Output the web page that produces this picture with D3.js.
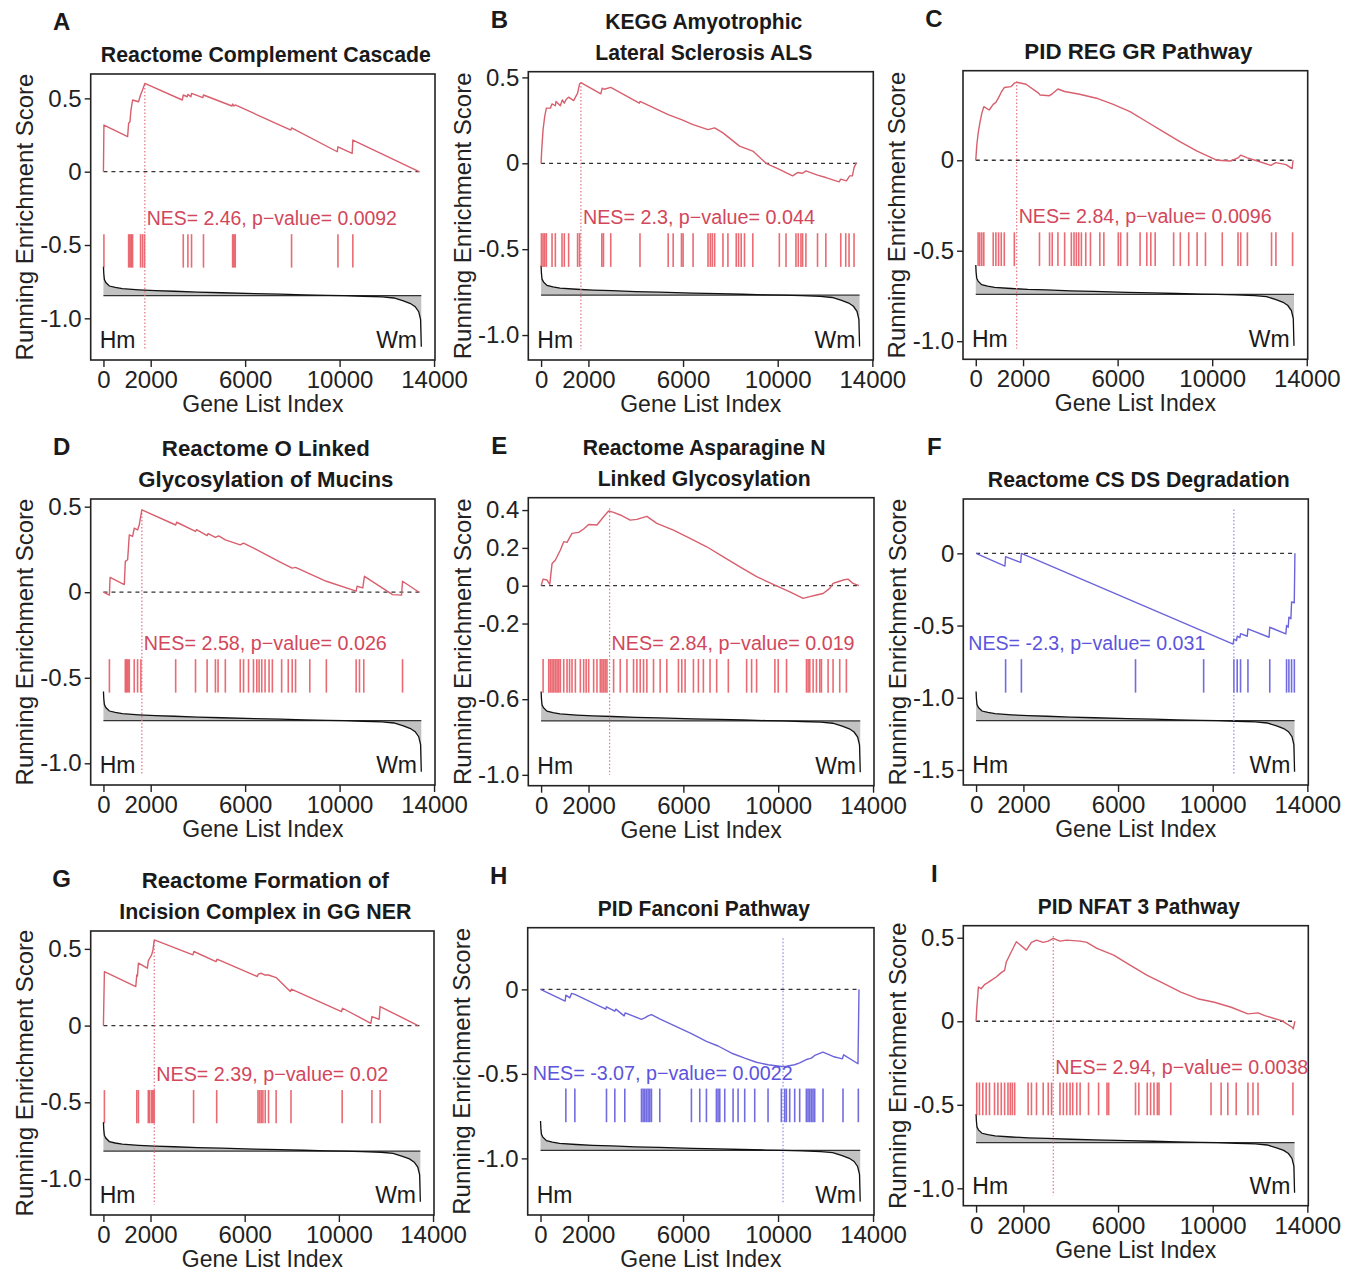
<!DOCTYPE html>
<html>
<head>
<meta charset="utf-8">
<script src="https://cdn.jsdelivr.net/npm/d3@7"></script>
<style>
  body { margin: 0; background: #fff; }
  svg { display: block; }
  text { font-family: "Liberation Sans", Arial, Helvetica, sans-serif; }
</style>
</head>
<body>
<svg id="chart" width="1358" height="1273"></svg>
<script>
// ---- data ----
const panelIds = ["A", "B", "C", "D", "E", "F", "G", "H", "I"];
const titles = [
  ["Reactome Complement Cascade"],
  ["KEGG Amyotrophic", "Lateral Sclerosis ALS"],
  ["PID REG GR Pathway"],
  ["Reactome O Linked", "Glycosylation of Mucins"],
  ["Reactome Asparagine N", "Linked Glycosylation"],
  ["Reactome CS DS Degradation"],
  ["Reactome Formation of", "Incision Complex in GG NER"],
  ["PID Fanconi Pathway"],
  ["PID NFAT 3 Pathway"]
];
const nesValues = ["2.46", "2.3", "2.84", "2.58", "2.84", "-2.3", "2.39", "-3.07", "2.94"];
const pValues = ["0.0092", "0.044", "0.0096", "0.026", "0.019", "0.031", "0.02", "0.0022", "0.0038"];
const direction = ["up", "up", "up", "up", "up", "down", "up", "down", "up"];
const peakIndex = [1753, 1683, 1730, 1627, 2889, 10894, 2160, 10210, 3262];

// data range of each ES plot (axis is padded 4% like R)
const yLimits = [
  [-1.212, 0.594], [-1.083, 0.471], [-1.041, 0.436],
  [-1.065, 0.483], [-1.001, 0.409], [-1.531, 0.303],
  [-1.166, 0.548], [-1.272, 0.302], [-1.042, 0.510]
];
const yTickValues = [
  [0.5, 0, -0.5, -1.0], [0.5, 0, -0.5, -1.0], [0, -0.5, -1.0],
  [0.5, 0, -0.5, -1.0], [0.4, 0.2, 0, -0.2, -0.6, -1.0], [0, -0.5, -1.0, -1.5],
  [0.5, 0, -0.5, -1.0], [0, -0.5, -1.0], [0.5, 0, -0.5, -1.0]
];
const xTickValues = [0, 2000, 6000, 10000, 14000];
const geneRange = [0, 13500];

// running enrichment score, [gene index, ES]
const esA = [[0,0],[20,0.318],[1024,0.239],[1066,0.33],[1122,0.34],[1164,0.42],[1234,0.489],[1487,0.477],[1571,0.523],[1655,0.557],[1753,0.602],[3338,0.489],[3380,0.523],[3548,0.511],[3576,0.527],[3703,0.511],[3731,0.534],[4208,0.505],[4236,0.523],[5442,0.448],[5470,0.461],[5526,0.448],[5582,0.455],[7938,0.284],[7966,0.298],[9902,0.136],[9930,0.17],[10533,0.125],[10561,0.216],[13366,0]];
const esB = [[0,0],[28,0.081],[84,0.196],[154,0.273],[224,0.321],[393,0.321],[463,0.346],[603,0.335],[631,0.36],[813,0.335],[898,0.369],[982,0.35],[1066,0.373],[1164,0.385],[1374,0.365],[1543,0.408],[1627,0.462],[1683,0.469],[2525,0.404],[2581,0.437],[2665,0.431],[2945,0.442],[4151,0.35],[4180,0.36],[5372,0.283],[5933,0.254],[6424,0.225],[7055,0.196],[7335,0.206],[7686,0.177],[8387,0.1],[8948,0.071],[9509,0],[10070,-0.035],[10631,-0.073],[10842,-0.054],[11052,-0.058],[11192,-0.044],[11683,-0.069],[12034,-0.083],[12595,-0.108],[12665,-0.092],[12903,-0.102],[13043,-0.073],[13156,-0.073],[13226,-0.025],[13324,0.004]];
const esC = [[0,0],[43,0.083],[99,0.148],[170,0.204],[255,0.259],[340,0.296],[567,0.278],[738,0.309],[851,0.32],[965,0.346],[1078,0.376],[1206,0.402],[1489,0.407],[1631,0.426],[1730,0.431],[2128,0.42],[2667,0.37],[2723,0.361],[3121,0.357],[3262,0.37],[3475,0.394],[3759,0.38],[4397,0.365],[5106,0.343],[5816,0.309],[6525,0.269],[7234,0.213],[7943,0.157],[8652,0.102],[9362,0.05],[10213,0],[10780,-0.004],[11092,0.013],[11206,0.028],[11489,0.013],[11915,-0.004],[12482,-0.028],[12695,-0.013],[13121,-0.024],[13380,-0.046],[13420,0]];
const esD = [[0,0],[252,-0.017],[280,0.087],[884,0.045],[926,0.18],[1024,0.19],[1094,0.335],[1234,0.326],[1304,0.374],[1445,0.364],[1515,0.393],[1627,0.481],[3058,0.393],[3100,0.409],[3899,0.355],[3941,0.366],[4390,0.331],[4432,0.343],[4741,0.32],[4881,0.329],[5161,0.306],[5792,0.277],[5932,0.287],[6424,0.254],[6844,0.223],[7546,0.171],[7994,0.141],[8135,0.145],[8738,0.107],[9439,0.064],[10701,0.006],[10743,0.035],[10982,0.025],[11052,0.093],[12244,-0.014],[12623,-0.017],[12665,0.064],[13366,0]];
const esE = [[0,0],[84,0.035],[252,0.03],[365,0.007],[463,0.118],[603,0.136],[813,0.189],[954,0.233],[1094,0.229],[1304,0.277],[1585,0.282],[1795,0.3],[2006,0.324],[2356,0.321],[2637,0.365],[2847,0.395],[3058,0.388],[3338,0.374],[3759,0.347],[4039,0.351],[4460,0.367],[4881,0.33],[5582,0.294],[6283,0.25],[6985,0.206],[7686,0.153],[8387,0.1],[9088,0.048],[9790,0.007],[10491,-0.032],[11052,-0.067],[11332,-0.058],[11613,-0.049],[11893,-0.041],[12174,-0.014],[12314,0.012],[12525,0.021],[12735,0.03],[12945,0.035],[13156,0.012],[13408,0]];
const esF = [[0,0],[1220,-0.088],[1248,-0.023],[1887,-0.063],[1915,0],[10865,-0.628],[10894,-0.593],[11007,-0.605],[11035,-0.574],[11149,-0.584],[11177,-0.556],[11461,-0.574],[11489,-0.523],[12383,-0.581],[12411,-0.512],[13092,-0.558],[13121,-0.5],[13191,-0.512],[13220,-0.442],[13305,-0.453],[13333,-0.337],[13447,-0.342],[13475,0]];
const esG = [[0,0],[42,0.352],[1374,0.254],[1417,0.33],[1445,0.322],[1487,0.407],[1865,0.374],[1907,0.422],[1964,0.439],[2048,0.461],[2104,0.493],[2160,0.559],[3801,0.461],[3843,0.483],[4783,0.417],[4825,0.433],[6536,0.32],[6578,0.335],[6704,0.341],[6844,0.33],[7013,0.33],[7335,0.313],[7938,0.222],[7980,0.237],[10112,0.091],[10154,0.113],[11360,0.015],[11403,0.059],[11711,0.041],[11753,0.124],[13366,0]];
const esH = [[0,0],[1038,-0.069],[1066,-0.034],[1234,-0.05],[1304,-0.024],[1445,-0.03],[2749,-0.117],[2777,-0.103],[3128,-0.129],[3170,-0.117],[3520,-0.157],[3562,-0.139],[4250,-0.177],[4390,-0.169],[4530,-0.157],[4670,-0.149],[4993,-0.173],[5582,-0.212],[6353,-0.262],[6985,-0.308],[7475,-0.335],[8107,-0.381],[8597,-0.407],[9088,-0.431],[9579,-0.446],[10140,-0.456],[10351,-0.454],[10701,-0.446],[10911,-0.435],[11192,-0.415],[11403,-0.407],[11543,-0.391],[11893,-0.371],[12314,-0.397],[12707,-0.411],[12763,-0.387],[13366,-0.44],[13408,0]];
const esI = [[0,0],[28,0.074],[99,0.205],[213,0.195],[355,0.219],[496,0.231],[638,0.245],[851,0.265],[1064,0.291],[1206,0.305],[1277,0.355],[1489,0.416],[1702,0.476],[2128,0.426],[2340,0.472],[2553,0.486],[2837,0.472],[3050,0.48],[3262,0.496],[3546,0.48],[3830,0.486],[4397,0.48],[4681,0.472],[5106,0.436],[5816,0.396],[6525,0.335],[7234,0.275],[7943,0.225],[8652,0.175],[9362,0.135],[10071,0.114],[10780,0.084],[11489,0.044],[11915,0.05],[12199,0.034],[12908,0.004],[13362,-0.036],[13404,-0.046],[13475,0]];

// positions of gene-set members in the ranked list
const hitsA = [20,1066,1122,1178,1234,1571,1655,1739,3380,3576,3730,4236,5470,5526,5582,7966,9930,10561];
const hitsB = [14,84,154,224,463,603,884,982,1164,1543,1627,2567,2637,2945,4180,5372,5582,5933,6003,6424,7055,7153,7237,7335,7686,7896,8247,8345,8457,8597,8948,10070,10351,10771,10870,10982,11052,11192,11683,12034,12665,12875,13015,13226];
const hitsC = [99,170,255,340,738,851,965,1078,1206,1631,2695,3121,3234,3475,3759,4043,4156,4255,4355,4468,4652,4851,5248,5418,6028,6128,6411,6950,7234,7404,7589,8369,8652,9007,9362,9716,10426,11092,11206,11489,12511,12695,13400];
const hitsD = [252,926,982,1038,1094,1304,1445,1585,3058,3899,4390,4741,4853,5161,5792,5932,6143,6353,6494,6592,6704,6844,7013,7153,7546,7826,7994,8135,8738,9439,10701,10842,11024,12665];
const hitsE = [84,323,393,463,533,603,673,743,813,954,1094,1200,1304,1445,1655,1795,1900,2006,2216,2356,2497,2567,2637,2707,2777,3058,3338,3619,3899,4040,4180,4320,4460,4741,5021,5302,5792,5933,6073,6424,6634,6844,7125,7405,7896,8668,8878,9088,9860,10000,10351,11192,11262,11332,11473,11613,11753,11823,12104,12314,12595,12875];
const hitsF = [1248,1915,6738,9617,10894,11035,11177,11489,12411,13121,13220,13333,13450];
const hitsG = [42,1417,1487,1907,1964,2048,2104,2160,3829,4811,6564,6634,6704,6774,6872,7013,7335,7966,10140,11403,11753];
const hitsH = [1066,1445,2777,3128,3548,4250,4320,4390,4460,4530,4600,4670,5021,6353,6704,6985,7405,7475,7546,7756,8107,8317,8597,9018,9579,10140,10280,10351,10491,10701,10911,11192,11262,11332,11403,11473,11543,11893,12735,13380];
const hitsI = [28,142,284,426,567,780,922,1064,1206,1348,1447,1532,1631,2199,2340,2553,2837,3050,3191,3546,3688,3830,3972,4085,4255,4397,4752,5177,5532,5603,6738,6879,7234,7376,7518,7660,7730,8227,9929,10355,10638,10993,11489,11702,11915,13390];

// ranked list metric (shared by all panels), [gene index, relative metric]
const rankMetric = [[0,1.0],[15,0.75],[40,0.55],[100,0.45],[250,0.33],[500,0.28],[800,0.24],[1500,0.2],[2200,0.17],[3000,0.15],[4000,0.12],[5000,0.1],[6400,0.07],[7500,0.05],[8500,0.03],[9500,0.01],[10200,0],[11000,-0.02],[11800,-0.04],[12300,-0.08],[12700,-0.18],[13000,-0.27],[13200,-0.38],[13350,-0.55],[13430,-0.82],[13460,-1.75]];

const esCurves = [esA, esB, esC, esD, esE, esF, esG, esH, esI];
const hitLists = [hitsA, hitsB, hitsC, hitsD, hitsE, hitsF, hitsG, hitsH, hitsI];

// ---- layout ----
const boxes = [
  { x0: 90.7, y0: 74, x1: 435, y1: 360 },
  { x0: 528.3, y0: 71.7, x1: 873.3, y1: 360 },
  { x0: 963, y0: 70.7, x1: 1307.7, y1: 359.3 },
  { x0: 90.7, y0: 499, x1: 435, y1: 785 },
  { x0: 528.3, y0: 497.7, x1: 874, y1: 785.7 },
  { x0: 963.3, y0: 499, x1: 1308.3, y1: 785 },
  { x0: 90.7, y0: 931, x1: 434, y1: 1215 },
  { x0: 527.7, y0: 927.7, x1: 874, y1: 1215 },
  { x0: 963.3, y0: 925.7, x1: 1308.3, y1: 1205.7 }
];
const titleWidths = [[330], [197, 217], [228], [208, 255], [243, 213], [302], [247, 292], [212], [202]];
const nesWidths = [250, 232, 253, 243, 243, 237, 232, 260, 253];

const palette = {
  up:   { line: "#d85f6d", hit: "#e2323d", text: "#d2475b", peak: "#e07585" },
  down: { line: "#6c64da", hit: "#3b33d6", text: "#5c54dc", peak: "#8c8ce6" }
};

const svg = d3.select("#chart");
// R prints a plain hyphen for negatives
const fmtY = (v) => (v === 0 ? "0" : d3.format(".1f")(v).replace("\u2212", "-"));

panelIds.forEach((id, i) => drawPanel(i, boxes[i]));

function drawPanel(i, box) {
  const col = palette[direction[i]];
  const g = svg.append("g");
  const w = box.x1 - box.x0;
  const h = box.y1 - box.y0;

  // R-style 4% padding on both axes
  const xPad = (geneRange[1] - geneRange[0]) * 0.04;
  const x = d3.scaleLinear()
    .domain([geneRange[0] - xPad, geneRange[1] + xPad])
    .range([box.x0, box.x1]);
  const [lo, hi] = yLimits[i];
  const yPad = (hi - lo) * 0.04;
  const y = d3.scaleLinear().domain([lo - yPad, hi + yPad]).range([box.y1, box.y0]);

  // ranked metric strip sits at a fixed place in the lower part of the box
  const m = d3.scaleLinear().domain([0, 1]).range([box.y0 + 0.775 * h, box.y0 + 0.673 * h]);

  // panel letter
  g.append("text")
    .attr("x", box.x0 - 29)
    .attr("y", box.y0 - 44)
    .attr("text-anchor", "middle")
    .style("font-size", "24px")
    .style("font-weight", "bold")
    .style("fill", "#1a1a1a")
    .text(panelIds[i]);

  // title (one or two lines)
  const lines = titles[i];
  lines.forEach((t, k) => {
    const baseline = box.y0 - 12 - (lines.length - 1 - k) * 31;
    g.append("text")
      .attr("x", (box.x0 + box.x1) / 2 + 3)
      .attr("y", baseline)
      .attr("text-anchor", "middle")
      .attr("textLength", titleWidths[i][k])
      .attr("lengthAdjust", "spacingAndGlyphs")
      .style("font-size", "22px")
      .style("font-weight", "bold")
      .style("fill", "#1a1a1a")
      .text(t);
  });

  // rank metric: grey area to baseline plus black outline
  const metricArea = d3.area()
    .x((d) => x(d[0]))
    .y0(m(0))
    .y1((d) => m(d[1]));
  g.append("path")
    .datum(rankMetric)
    .attr("d", metricArea)
    .attr("fill", "#c2c2c2");
  g.append("line")
    .attr("x1", x(0))
    .attr("x2", x(rankMetric[rankMetric.length - 1][0]))
    .attr("y1", m(0))
    .attr("y2", m(0))
    .attr("stroke", "#333")
    .attr("stroke-width", 1.3);
  g.append("path")
    .datum(rankMetric)
    .attr("d", d3.line().x((d) => x(d[0])).y((d) => m(d[1])))
    .attr("fill", "none")
    .attr("stroke", "#111")
    .attr("stroke-width", 1.3);

  // hit marks
  g.append("g")
    .selectAll("line")
    .data(hitLists[i])
    .join("line")
    .attr("x1", (d) => x(d))
    .attr("x2", (d) => x(d))
    .attr("y1", box.y0 + 0.56 * h)
    .attr("y2", box.y0 + 0.677 * h)
    .attr("stroke", col.hit)
    .attr("stroke-width", 1.6)
    .attr("stroke-opacity", 0.72);

  // zero line
  g.append("line")
    .attr("x1", x(0))
    .attr("x2", x(13460))
    .attr("y1", y(0))
    .attr("y2", y(0))
    .attr("stroke", "#333")
    .attr("stroke-width", 1.3)
    .attr("stroke-dasharray", "4,4");

  // leading-edge marker
  g.append("line")
    .attr("x1", x(peakIndex[i]))
    .attr("x2", x(peakIndex[i]))
    .attr("y1", y(hi))
    .attr("y2", y(lo))
    .attr("stroke", col.peak)
    .attr("stroke-width", 1.2)
    .attr("stroke-dasharray", "1.5,2");

  // running enrichment score
  g.append("path")
    .datum(esCurves[i])
    .attr("d", d3.line().x((d) => x(d[0])).y((d) => y(d[1])))
    .attr("fill", "none")
    .attr("stroke", col.line)
    .attr("stroke-width", 1.4)
    .attr("stroke-linejoin", "round");

  // NES annotation
  const nesX = direction[i] === "up" ? x(peakIndex[i]) + 2 : box.x0 + 5;
  g.append("text")
    .attr("x", nesX)
    .attr("y", box.y0 + 0.505 * h + 7)
    .attr("textLength", nesWidths[i])
    .attr("lengthAdjust", "spacingAndGlyphs")
    .style("font-size", "20px")
    .style("fill", col.text)
    .text("NES= " + nesValues[i] + ", p\u2212value= " + pValues[i]);

  // group labels
  g.append("text")
    .attr("x", box.x0 + 9)
    .attr("y", box.y1 - 12)
    .style("font-size", "23px")
    .style("fill", "#1a1a1a")
    .text("Hm");
  g.append("text")
    .attr("x", box.x1 - 18)
    .attr("y", box.y1 - 12)
    .attr("text-anchor", "end")
    .style("font-size", "23px")
    .style("fill", "#1a1a1a")
    .text("Wm");

  // box
  g.append("rect")
    .attr("x", box.x0)
    .attr("y", box.y0)
    .attr("width", w)
    .attr("height", h)
    .attr("fill", "none")
    .attr("stroke", "#222")
    .attr("stroke-width", 1.6);

  // axes
  const yAxis = g.append("g")
    .attr("transform", `translate(${box.x0},0)`)
    .call(d3.axisLeft(y).tickValues(yTickValues[i]).tickFormat(fmtY).tickSize(6).tickPadding(3));
  const xAxis = g.append("g")
    .attr("transform", `translate(0,${box.y1})`)
    .call(d3.axisBottom(x).tickValues(xTickValues).tickFormat(d3.format("d")).tickSize(7).tickPadding(4));
  [yAxis, xAxis].forEach((a) => {
    a.select(".domain").remove();
    a.selectAll("line").attr("stroke", "#222").attr("stroke-width", 1.4);
    a.selectAll("text")
      .style("font-size", "24px")
      .style("fill", "#222")
      .style("font-family", '"Liberation Sans", Arial, sans-serif');
  });

  // axis titles
  g.append("text")
    .attr("x", (box.x0 + box.x1) / 2)
    .attr("y", box.y1 + 52)
    .attr("text-anchor", "middle")
    .style("font-size", "23px")
    .style("fill", "#222")
    .text("Gene List Index");
  g.append("text")
    .attr("transform", `translate(${box.x0 - 66},${(box.y0 + box.y1) / 2}) rotate(-90)`)
    .attr("dy", "0.35em")
    .attr("text-anchor", "middle")
    .style("font-size", "24px")
    .style("fill", "#222")
    .text("Running Enrichment Score");
}
</script>
</body>
</html>
